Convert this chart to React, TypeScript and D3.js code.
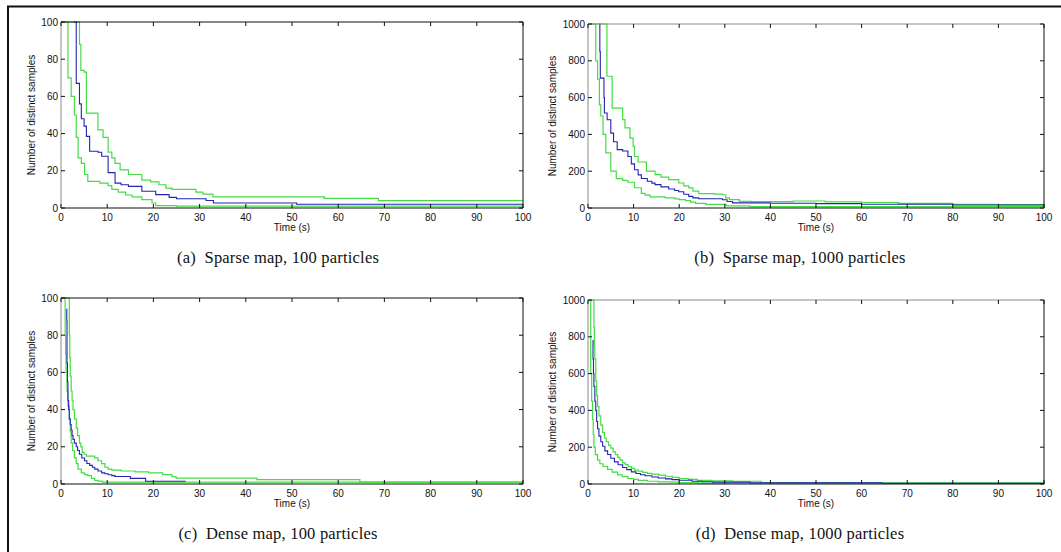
import React from "react";
import * as d3 from "d3";

// ---------- data ----------
const xTicks = [0, 10, 20, 30, 40, 50, 60, 70, 80, 90, 100];
const yTicks100 = [0, 20, 40, 60, 80, 100];
const yTicks1000 = [0, 200, 400, 600, 800, 1000];
const xLabel = "Time (s)";
const yLabel = "Number of distinct samples";
const captions = [
  "(a)  Sparse map, 100 particles",
  "(b)  Sparse map, 1000 particles",
  "(c)  Dense map, 100 particles",
  "(d)  Dense map, 1000 particles",
];

// (a) sparse map, 100 particles : [time, samples]
const sparse100Upper: [number, number][] = [
  [0, 100], [4.0, 88], [4.3, 74], [5.0, 73], [5.5, 51], [8.0, 42], [9.1, 38], [10.2, 30],
  [11.0, 27], [11.7, 24], [12.8, 20.5], [14.6, 18], [17.5, 15], [19.4, 14], [21.2, 12.5],
  [22.7, 10.7], [24, 10], [29.2, 8.5], [30.7, 7.5], [32.9, 6], [57, 5.2], [68.7, 4], [100, 4],
];
const sparse100Mean: [number, number][] = [
  [2.8, 100], [3.3, 67], [4.0, 56], [4.4, 48], [5.0, 44], [5.5, 38.5], [6.2, 30.5], [8.0, 30],
  [8.8, 27.8], [10.2, 19], [11.7, 13.4], [13, 12.5], [14.6, 11.6], [17.5, 9], [20.5, 7.2],
  [23.4, 5.7], [25, 5], [31.4, 4], [33, 2.7], [51, 2], [100, 2],
];
const sparse100Lower: [number, number][] = [
  [0, 100], [1.5, 70], [2.2, 60], [2.9, 50], [3.3, 38], [3.7, 27], [4.4, 24], [5.1, 18],
  [5.8, 14.3], [8.4, 13.4], [10.2, 12], [11, 10], [12.4, 8.5], [14, 7], [15.4, 6], [17.5, 4.5],
  [19.7, 2.7], [20.5, 1.3], [25, 1], [100, 1],
];

// (b) sparse map, 1000 particles
const sparse1000Upper: [number, number][] = [
  [0, 1000], [4.15, 716], [5.3, 543], [7.6, 480], [8.1, 435], [9.2, 380], [9.9, 335],
  [10.2, 280], [11, 250], [12.8, 200], [14.7, 181], [16, 168], [17.7, 154], [19.9, 136],
  [21, 120], [22.1, 109], [23, 92], [24.3, 78], [27.7, 75], [29.5, 72], [30.2, 55], [31, 45],
  [33.2, 36], [36, 35], [45, 38], [52, 33], [60, 30], [68, 25], [80, 20], [90, 18], [100, 18],
];
const sparse1000Mean: [number, number][] = [
  [2.45, 1000], [2.6, 850], [2.7, 706], [3.5, 600], [3.6, 516], [4.2, 480], [5.0, 407],
  [5.6, 360], [6.4, 317], [7.6, 310], [8.75, 280], [9.5, 240], [10.2, 208], [11, 180],
  [11.7, 160], [13, 145], [14, 135], [14.7, 127], [16, 115], [17.7, 103], [19, 95], [19.9, 88],
  [21, 75], [22.1, 63], [23, 55], [24.3, 50], [29.5, 45], [30.5, 35], [31.7, 28], [40, 26],
  [50, 24], [60, 20], [80, 16], [100, 15],
];
const sparse1000Lower: [number, number][] = [
  [0, 1000], [1.7, 800], [2.1, 700], [2.5, 560], [2.8, 500], [3.3, 400], [3.9, 300],
  [5.0, 200], [6.2, 160], [7.6, 150], [8.75, 140], [10.2, 110], [11.7, 80], [12.5, 70],
  [13.6, 60], [16.9, 55], [19.1, 50], [20, 45], [21.4, 40], [22.5, 32], [23.6, 25], [25.8, 20],
  [30.3, 12], [35.5, 8], [100, 7],
];

// (c) dense map, 100 particles
const dense100Upper: [number, number][] = [
  [0, 100], [1.8, 80], [1.9, 68], [2.0, 58], [2.2, 50], [2.4, 45], [2.6, 40], [2.9, 35],
  [3.3, 30], [3.6, 26], [4.0, 22], [4.3, 20], [4.6, 17], [5.0, 16], [5.5, 15], [7.3, 14],
  [8.0, 12.5], [8.8, 11], [9.5, 9], [10.2, 8], [11, 7.5], [13, 7], [16, 6.5], [19, 6], [22, 5],
  [24, 4], [24.9, 3.2], [42.4, 2.3], [64.7, 1], [100, 1],
];
const dense100Mean: [number, number][] = [
  [1.2, 94], [1.25, 88], [1.3, 65], [1.4, 55], [1.5, 45], [1.65, 40], [1.8, 35], [2.0, 32],
  [2.2, 29], [2.4, 26], [2.6, 24], [2.9, 22], [3.3, 20], [3.6, 18], [4.0, 16], [4.5, 14],
  [5.1, 12.5], [5.6, 11], [6.2, 10], [6.8, 9], [7.3, 8], [8.0, 7], [8.8, 6], [9.5, 5.5],
  [10.2, 5], [11, 4.5], [11.7, 4], [15, 3], [18.3, 1.5], [27, 1.5],
];
const dense100Lower: [number, number][] = [
  [0, 100], [0.9, 80], [1.0, 70], [1.1, 60], [1.3, 50], [1.5, 42], [1.8, 35], [2.0, 28],
  [2.2, 22], [2.5, 18], [2.9, 14], [3.3, 11], [3.7, 8], [4.4, 6], [5.1, 5], [5.8, 4.5],
  [6.6, 3], [7.3, 2], [8.0, 1.5], [9, 1], [100, 1],
];

// (d) dense map, 1000 particles
const dense1000Upper: [number, number][] = [
  [0, 1000], [1.3, 850], [1.4, 750], [1.5, 680], [1.7, 560], [1.9, 480], [2.1, 420],
  [2.4, 370], [2.8, 320], [3.2, 280], [3.6, 250], [4.0, 230], [4.5, 210], [5.0, 195],
  [5.5, 175], [6.0, 160], [6.5, 145], [7.0, 130], [7.6, 115], [8.2, 105], [8.8, 95],
  [9.5, 85], [10.2, 75], [11, 70], [12, 63], [13, 58], [14, 54], [15.5, 48], [17, 42],
  [18.5, 36], [20, 30], [22, 25], [24, 20], [27, 17], [31.7, 15], [38, 8], [64.4, 6], [100, 5],
];
const dense1000Mean: [number, number][] = [
  [1.0, 780], [1.1, 680], [1.2, 600], [1.3, 530], [1.5, 450], [1.7, 400], [1.9, 340],
  [2.1, 300], [2.4, 260], [2.8, 230], [3.2, 205], [3.7, 180], [4.3, 160], [5.0, 140],
  [5.8, 120], [6.6, 105], [7.6, 90], [8.5, 78], [9.5, 66], [10.5, 57], [11.5, 50], [12.5, 45],
  [14, 38], [15.4, 33], [17, 28], [18.4, 24], [20, 20], [22.8, 15], [25, 12], [27.3, 10],
  [35.5, 7], [64.4, 4], [100, 3],
];
const dense1000Lower: [number, number][] = [
  [0, 1000], [0.6, 600], [0.8, 450], [1.0, 350], [1.15, 270], [1.3, 200], [1.6, 160],
  [2.1, 130], [2.6, 110], [3.3, 95], [4.3, 80], [5.3, 65], [6.5, 50], [7.5, 40], [8.75, 30],
  [10, 25], [11, 20], [13, 15], [15.4, 12], [18, 10], [20, 8], [24.3, 5], [35.5, 3], [100, 3],
];

// ---------- panel table ----------
const panels = [
  { upper: sparse100Upper, mean: sparse100Mean, lower: sparse100Lower, yMax: 100, yTicks: yTicks100, caption: captions[0] },
  { upper: sparse1000Upper, mean: sparse1000Mean, lower: sparse1000Lower, yMax: 1000, yTicks: yTicks1000, caption: captions[1] },
  { upper: dense100Upper, mean: dense100Mean, lower: dense100Lower, yMax: 100, yTicks: yTicks100, caption: captions[2] },
  { upper: dense1000Upper, mean: dense1000Mean, lower: dense1000Lower, yMax: 1000, yTicks: yTicks1000, caption: captions[3] },
];

const layout = [
  { x0: 61, x1: 523, y0: 22, y1: 208, ylx: 31, capX: 278, leftCol: "#8a8a8a", topCol: "#111" },
  { x0: 588, x1: 1044, y0: 24, y1: 208, ylx: 552, capX: 800, leftCol: "#8a8a8a", topCol: "#8a8a8a" },
  { x0: 61, x1: 523, y0: 298, y1: 484, ylx: 31, capX: 278, leftCol: "#8a8a8a", topCol: "#111" },
  { x0: 588, x1: 1044, y0: 300, y1: 484, ylx: 552, capX: 800, leftCol: "#8a8a8a", topCol: "#8a8a8a" },
];

const GREEN = "#45dc45";
const BLUE = "#2424b4";
const SANS = "'Liberation Sans', Arial, Helvetica, sans-serif";
const SERIF = "'Liberation Serif', 'Times New Roman', serif";

function Panel({ p, l }: { p: (typeof panels)[number]; l: (typeof layout)[number] }) {
  const x = d3.scaleLinear().domain([0, 100]).range([l.x0, l.x1]);
  const y = d3.scaleLinear().domain([0, p.yMax]).range([l.y1, l.y0]);
  const line = d3
    .line<[number, number]>()
    .x((d) => x(d[0]))
    .y((d) => y(d[1]))
    .curve(d3.curveStepAfter);
  const tk = 4;
  return (
    <g>
      {/* series */}
      <path d={line(p.upper) || ""} fill="none" stroke={GREEN} strokeWidth={1.2} />
      <path d={line(p.lower) || ""} fill="none" stroke={GREEN} strokeWidth={1.2} />
      <path d={line(p.mean) || ""} fill="none" stroke={BLUE} strokeWidth={1.1} />
      {/* box */}
      <line x1={l.x0} x2={l.x1} y1={l.y1} y2={l.y1} stroke="#111" strokeWidth={1} />
      <line x1={l.x1} x2={l.x1} y1={l.y0} y2={l.y1} stroke="#111" strokeWidth={1} />
      <line x1={l.x0} x2={l.x1} y1={l.y0} y2={l.y0} stroke={l.topCol} strokeWidth={1} />
      <line x1={l.x0} x2={l.x0} y1={l.y0} y2={l.y1} stroke={l.leftCol} strokeWidth={1} />
      {/* x ticks */}
      {xTicks.map((t) => (
        <g key={"x" + t}>
          <line x1={x(t)} x2={x(t)} y1={l.y1} y2={l.y1 - tk} stroke="#111" strokeWidth={1} />
          <line x1={x(t)} x2={x(t)} y1={l.y0} y2={l.y0 + tk} stroke="#111" strokeWidth={1} />
          <text x={x(t)} y={l.y1 + 13} textAnchor="middle" fontSize={10} fontFamily={SANS} fill="#111">
            {t}
          </text>
        </g>
      ))}
      {/* y ticks */}
      {p.yTicks.map((t) => (
        <g key={"y" + t}>
          <line x1={l.x0} x2={l.x0 + tk} y1={y(t)} y2={y(t)} stroke="#111" strokeWidth={1} />
          <line x1={l.x1} x2={l.x1 - tk} y1={y(t)} y2={y(t)} stroke="#111" strokeWidth={1} />
          <text x={l.x0 - 3} y={y(t) + 3.5} textAnchor="end" fontSize={10} fontFamily={SANS} fill="#111">
            {t}
          </text>
        </g>
      ))}
      <text x={x(50)} y={l.y1 + 23} textAnchor="middle" fontSize={10} fontFamily={SANS} fill="#111">
        {xLabel}
      </text>
      <text
        transform={`translate(${l.ylx},${(l.y0 + l.y1) / 2}) rotate(-90)`}
        textAnchor="middle"
        dy="0.35em"
        fontSize={10}
        fontFamily={SANS}
        fill="#111"
      >
        {yLabel}
      </text>
      <text
        x={l.capX}
        y={l.y1 + 55}
        textAnchor="middle"
        fontSize={16.5}
        letterSpacing={0.2}
        fontFamily={SERIF}
        fill="#111"
        style={{ whiteSpace: "pre" }}
      >
        {p.caption}
      </text>
    </g>
  );
}

export default function App() {
  return (
    <svg
      width={1061}
      height={552}
      viewBox="0 0 1061 552"
      style={{ position: "absolute", left: 0, top: 0, background: "#fff" }}
    >
      <rect x={0} y={0} width={1061} height={552} fill="#fff" />
      <path d="M8,552 L8,6.5 L1061,6.5" fill="none" stroke="#111" strokeWidth={2} />
      {panels.map((p, i) => (
        <Panel key={i} p={p} l={layout[i]} />
      ))}
    </svg>
  );
}
